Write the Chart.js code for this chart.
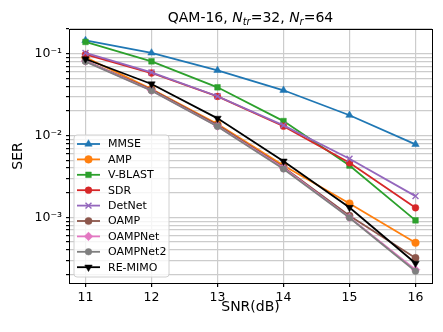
<!DOCTYPE html>
<html><head><meta charset="utf-8">
<script src="https://cdn.jsdelivr.net/npm/chart.js@4.4.1/dist/chart.umd.min.js"></script>
<style>html,body{margin:0;padding:0;background:#fff}#wrap{width:443px;height:332px}</style>
</head><body><div id="wrap"><canvas id="c" width="443" height="332"></canvas></div>
<script>
const snr = [11, 12, 13, 14, 15, 16];
const seriesNames = ['MMSE','AMP','V-BLAST','SDR','DetNet','OAMP','OAMPNet','OAMPNet2','RE-MIMO'];
const mmse     = [0.145, 0.102, 0.0626, 0.0357, 0.0177, 0.0078];
const amp      = [0.090, 0.037, 0.0138, 0.0043, 0.00148, 0.00049];
const vblast   = [0.139, 0.0805, 0.0388, 0.0150, 0.0043, 0.00092];
const sdr      = [0.098, 0.058, 0.0300, 0.0130, 0.00465, 0.00131];
const detnet   = [0.102, 0.059, 0.0302, 0.0133, 0.0052, 0.00182];
const oamp     = [0.082, 0.0363, 0.0134, 0.0041, 0.00105, 0.00032];
const oampnet  = [0.081, 0.0355, 0.0130, 0.0040, 0.00100, 0.00023];
const oampnet2 = [0.080, 0.0352, 0.0129, 0.0039, 0.00099, 0.00022];
const remimo   = [0.086, 0.0426, 0.0162, 0.00486, 0.00132, 0.000275];
const xTicks = [11, 12, 13, 14, 15, 16];
const yTicks = [2e-4,3e-4,4e-4,5e-4,6e-4,7e-4,8e-4,9e-4,1e-3,2e-3,3e-3,4e-3,5e-3,6e-3,7e-3,8e-3,9e-3,1e-2,2e-2,3e-2,4e-2,5e-2,6e-2,7e-2,8e-2,9e-2,1e-1,2e-1];

const allValues = [mmse, amp, vblast, sdr, detnet, oamp, oampnet, oampnet2, remimo];
const colors = ['#1f77b4','#ff7f0e','#2ca02c','#d62728','#9467bd','#8c564b','#e377c2','#7f7f7f','#000000'];
const styles = [
  {s:'triangle', r:4.3, rot:0},
  {s:'circle', r:3.8, rot:0},
  {s:'rect', r:4.0, rot:0},
  {s:'circle', r:3.4, rot:0},
  {s:'crossRot', r:4.2, rot:0},
  {s:'circle', r:3.6, rot:0},
  {s:'rectRot', r:4.3, rot:0},
  {s:'circle', r:3.3, rot:0},
  {s:'triangle', r:4.3, rot:180}
];

const datasets = seriesNames.map((n,i)=>({
  label: n,
  data: snr.map((x,j)=>({x:x, y:allValues[i][j]})),
  borderColor: colors[i],
  backgroundColor: colors[i],
  borderWidth: 1.8,
  pointStyle: styles[i].s,
  pointRadius: styles[i].r,
  pointRotation: styles[i].rot,
  pointBorderWidth: styles[i].s==='crossRot'?1.4:0.5,
  pointHoverRadius: styles[i].r,
  order: seriesNames.length - i,
  tension: 0
}));

const SUP = {'-':'\u207B','0':'\u2070','1':'\u00B9','2':'\u00B2','3':'\u00B3','4':'\u2074','5':'\u2075','6':'\u2076','7':'\u2077','8':'\u2078','9':'\u2079'};
function logLabel(v){
  const e = Math.log10(v);
  if (Math.abs(e-Math.round(e))>1e-9) return '';
  return '10' + String(Math.round(e)).split('').map(c=>SUP[c]).join('');
}

const FONT = 'DejaVu Sans';

const extras = {
  id: 'extras',
  afterDraw(chart){
    const ctx = chart.ctx, a = chart.chartArea;
    ctx.save();
    ctx.strokeStyle = '#000'; ctx.lineWidth = 1;
    ctx.strokeRect(Math.round(a.left)+0.5, Math.round(a.top)+0.5, Math.round(a.right-a.left), Math.round(a.bottom-a.top));
    const parts = [
      {t:'QAM-16, ', f:'14px', i:false, sub:false},
      {t:'N', f:'14px', i:true, sub:false},
      {t:'tr', f:'10px', i:true, sub:true},
      {t:'=32, ', f:'14px', i:false, sub:false},
      {t:'N', f:'14px', i:true, sub:false},
      {t:'r', f:'10px', i:true, sub:true},
      {t:'=64', f:'14px', i:false, sub:false}
    ];
    let w = 0;
    parts.forEach(p=>{ ctx.font = (p.i?'italic ':'') + p.f + ' "'+FONT+'"'; p.w = ctx.measureText(p.t).width; w += p.w; });
    let x = (a.left + a.right)/2 - w/2;
    const by = 22;
    ctx.fillStyle = '#000'; ctx.textBaseline = 'alphabetic'; ctx.textAlign = 'left';
    parts.forEach(p=>{ ctx.font = (p.i?'italic ':'') + p.f + ' "'+FONT+'"'; ctx.fillText(p.t, x, by + (p.sub?2.5:0)); x += p.w; });
    const lx = 74, ly = 135, lw = 95, lh = 142;
    ctx.beginPath();
    const rr = 3;
    ctx.moveTo(lx+rr, ly); ctx.lineTo(lx+lw-rr, ly); ctx.quadraticCurveTo(lx+lw, ly, lx+lw, ly+rr);
    ctx.lineTo(lx+lw, ly+lh-rr); ctx.quadraticCurveTo(lx+lw, ly+lh, lx+lw-rr, ly+lh);
    ctx.lineTo(lx+rr, ly+lh); ctx.quadraticCurveTo(lx, ly+lh, lx, ly+lh-rr);
    ctx.lineTo(lx, ly+rr); ctx.quadraticCurveTo(lx, ly, lx+rr, ly);
    ctx.closePath();
    ctx.fillStyle = 'rgba(255,255,255,0.8)'; ctx.fill();
    ctx.strokeStyle = '#d0d0d0'; ctx.lineWidth = 1; ctx.stroke();
    ctx.font = '11px "'+FONT+'"'; ctx.textBaseline = 'middle';
    chart.data.datasets.forEach((ds,i)=>{
      const y = 144 + i*15.4;
      ctx.strokeStyle = ds.borderColor; ctx.lineWidth = 1.8;
      ctx.beginPath(); ctx.moveTo(77, y); ctx.lineTo(100, y); ctx.stroke();
      ctx.fillStyle = ds.backgroundColor; ctx.strokeStyle = ds.borderColor; ctx.lineWidth = ds.pointBorderWidth;
      Chart.helpers.drawPoint(ctx, {pointStyle: ds.pointStyle, rotation: ds.pointRotation, borderWidth: ds.pointBorderWidth, radius: ds.pointRadius}, 88.5, y);
      ctx.fillStyle = '#000';
      ctx.fillText(ds.label, 108, y+0.5);
    });
    ctx.restore();
  }
};

new Chart(document.getElementById('c'), {
  type: 'line',
  data: { datasets },
  plugins: [extras],
  options: {
    responsive: false,
    animation: false,
    events: [],
    layout: { padding: { top: 29, right: 11, left: 0, bottom: 0 } },
    plugins: { legend: { display: false }, tooltip: { enabled: false }, title: { display: false } },
    scales: {
      x: {
        type: 'linear', min: 10.75, max: 16.25,
        afterBuildTicks: s => { s.ticks = xTicks.map(v=>({value:v})); },
        afterFit: s => { s.height = 49; },
        grid: { color: '#cccccc', lineWidth: 1.2, tickColor: '#000', tickLength: 4 },
        border: { color: '#000', width: 1 },
        ticks: { color: '#000', font: { family: FONT, size: 12.5 }, padding: 3, maxRotation: 0, autoSkip: false },
        title: { display: true, text: 'SNR(dB)', color: '#000', font: { family: FONT, size: 14 }, padding: { top: 0, bottom: 16 } }
      },
      y: {
        type: 'logarithmic', min: 1.58e-4, max: 0.2,
        afterBuildTicks: s => { s.ticks = yTicks.map(v=>({value:v})); },
        afterFit: s => { s.width = 69; },
        grid: { color: '#cccccc', lineWidth: 1.2, tickColor: '#000', tickLength: 3 },
        border: { color: '#000', width: 1 },
        ticks: { color: '#000', font: { family: FONT, size: 12.5 }, padding: 4, autoSkip: false, callback: v => logLabel(v) },
        title: { display: true, text: 'SER', color: '#000', font: { family: FONT, size: 14 }, padding: { top: 10, bottom: 0 } }
      }
    }
  }
});
</script></body></html>
